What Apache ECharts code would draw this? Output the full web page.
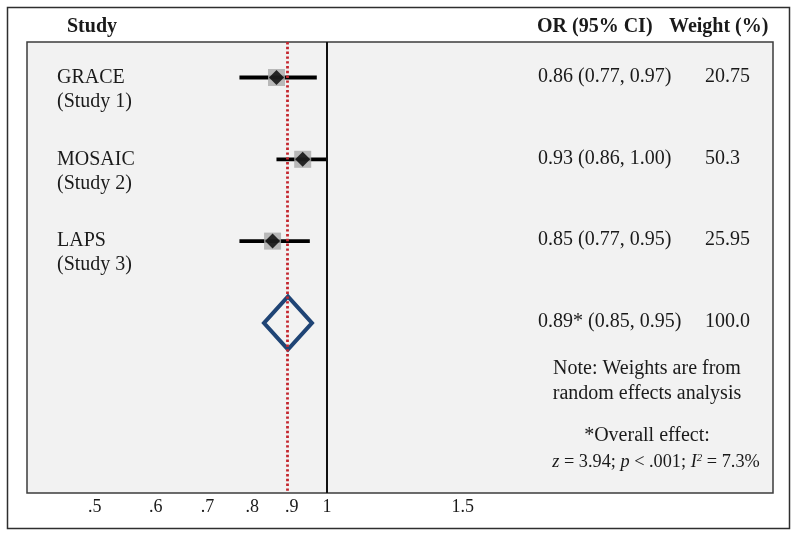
<!DOCTYPE html>
<html><head><meta charset="utf-8">
<script src="https://cdn.jsdelivr.net/npm/echarts@6/dist/echarts.min.js"></script>
<style>html,body{margin:0;padding:0;background:#fff}#c{width:800px;height:538px}</style>
</head><body><div id="c"></div>
<script>
// ---- data ----
const studies = ['GRACE', 'MOSAIC', 'LAPS'];
const studyNotes = ['(Study 1)', '(Study 2)', '(Study 3)'];
const orEstimate = [0.86, 0.93, 0.85];
const ciLower = [0.77, 0.86, 0.77];
const ciUpper = [0.97, 1.00, 0.95];
const weightPct = ['20.75', '50.3', '25.95'];
const pooledEstimate = 0.89;
const pooledLower = 0.85;
const pooledUpper = 0.95;
const pooledWeight = '100.0';
const tickValues = [0.5, 0.6, 0.7, 0.8, 0.9, 1, 1.5];
const tickLabels = ['.5', '.6', '.7', '.8', '.9', '1', '1.5'];
const headers = ['Study', 'OR (95% CI)', 'Weight (%)'];
const noteLines = ['Note: Weights are from', 'random effects analysis', '*Overall effect:'];
const statZ = '3.94', statP = '.001', statI2 = '7.3%';

// ---- layout ----
const FONT = '"Liberation Serif", "Times New Roman", serif';
const TXT = '#1a1a1a';
const ln = Math.log;
const xMin = 0.4084, xMax = 3.786;
const pooledRow = studies.length + 1;
const fmt = v => v.toFixed(2);

const rowTexts = studies.map((s, i) => ({
  row: i + 1, name: s, note: studyNotes[i],
  or: `${fmt(orEstimate[i])} (${fmt(ciLower[i])}, ${fmt(ciUpper[i])})`,
  w: weightPct[i]
}));
rowTexts.push({ row: pooledRow, name: '', note: '',
  or: `${fmt(pooledEstimate)}* (${fmt(pooledLower)}, ${fmt(pooledUpper)})`, w: pooledWeight });

const chart = echarts.init(document.getElementById('c'), null, { renderer: 'canvas' });

const txt = (text, x, y, extra) => ({ type: 'text', x, y,
  style: Object.assign({ text, font: `20px ${FONT}`, fill: TXT, align: 'left', verticalAlign: 'middle' }, extra || {}) });

chart.setOption({
  animation: false,
  backgroundColor: '#ffffff',
  grid: { left: 27, right: 27, top: 42, bottom: 45, show: true,
    backgroundColor: '#f2f2f2', borderColor: '#3c3c3c', borderWidth: 1.5 },
  xAxis: {
    type: 'value', min: ln(xMin), max: ln(xMax),
    axisLine: { show: false }, axisTick: { show: false }, splitLine: { show: false },
    axisLabel: {
      customValues: tickValues.map(ln),
      formatter: v => {
        let best = 0;
        tickValues.forEach((t, i) => { if (Math.abs(ln(t) - v) < Math.abs(ln(tickValues[best]) - v)) best = i; });
        return tickLabels[best];
      },
      fontFamily: FONT, fontSize: 18, color: TXT, margin: 5
    }
  },
  yAxis: { type: 'value', inverse: true, min: 0.566, max: 6.079, show: false },
  graphic: [
    { type: 'rect', shape: { x: 7.5, y: 7.5, width: 782, height: 521 },
      style: { fill: 'none', stroke: '#2e2e2e', lineWidth: 1.5 }, silent: true },
    txt(headers[0], 67, 27, { font: `bold 20px ${FONT}` }),
    txt(headers[1], 537, 27, { font: `bold 20px ${FONT}` }),
    txt(headers[2], 669, 27, { font: `bold 20px ${FONT}` }),
    txt(noteLines[0], 647, 369, { align: 'center' }),
    txt(noteLines[1], 647, 394, { align: 'center' }),
    txt(noteLines[2], 647, 436, { align: 'center' }),
    { type: 'text', x: 656, y: 462, style: {
      text: `{i|z} = ${statZ}; {i|p} < ${statP}; {i|I}{sup|2} = ${statI2}`,
      font: `18.3px ${FONT}`, fill: TXT, align: 'center', verticalAlign: 'middle',
      rich: {
        i: { fontStyle: 'italic', fontSize: 18.3, fontFamily: FONT, fill: TXT },
        sup: { fontSize: 11, fontFamily: FONT, fontStyle: 'italic', fill: TXT, verticalAlign: 'top', padding: [0, 0, 7, 0] }
      } } }
  ],
  series: [
    {
      type: 'custom', name: 'ci', encode: { x: [0, 1], y: 2 }, z: 2,
      data: studies.map((s, i) => [ln(ciLower[i]), ln(ciUpper[i]), i + 1]),
      renderItem: (params, api) => {
        const a = api.coord([api.value(0), api.value(2)]);
        const b = api.coord([api.value(1), api.value(2)]);
        return { type: 'line', shape: { x1: a[0], y1: a[1], x2: b[0], y2: b[1] },
          style: { stroke: '#000', lineWidth: 3.8 } };
      }
    },
    {
      type: 'scatter', name: 'weight', symbol: 'rect', symbolSize: 17, z: 3,
      itemStyle: { color: '#a9a9a9' },
      data: studies.map((s, i) => [ln(orEstimate[i]), i + 1]),
      markLine: {
        silent: true, symbol: ['none', 'none'], label: { show: false }, z: 6,
        data: [
          { xAxis: 0, lineStyle: { color: '#111', width: 2, type: 'solid' } },
          { xAxis: ln(pooledEstimate), lineStyle: { color: '#c4262e', width: 2.8, type: [2.4, 2.4] } }
        ]
      }
    },
    {
      type: 'scatter', name: 'estimate', symbol: 'diamond', symbolSize: 15, z: 4,
      itemStyle: { color: '#000' },
      data: studies.map((s, i) => [ln(orEstimate[i]), i + 1])
    },
    {
      type: 'scatter', name: 'pooled', symbol: 'diamond', symbolSize: [48, 53], z: 4,
      itemStyle: { color: 'rgba(0,0,0,0)', borderColor: '#1f4475', borderWidth: 4, opacity: 1 },
      data: [[ln(pooledEstimate), pooledRow]]
    },
    {
      type: 'custom', name: 'table', encode: { x: 0, y: 1 }, z: 5, silent: true,
      data: rowTexts.map(r => [0, r.row]),
      renderItem: (params, api) => {
        const r = rowTexts[params.dataIndex];
        const y = api.coord([0, api.value(1)])[1];
        const children = [txt(r.or, 538, y - 1), txt(r.w, 705, y - 1)];
        if (r.name) { children.push(txt(r.name, 57, y)); children.push(txt(r.note, 57, y + 24)); }
        return { type: 'group', children };
      }
    }
  ]
});
</script>
</body></html>
